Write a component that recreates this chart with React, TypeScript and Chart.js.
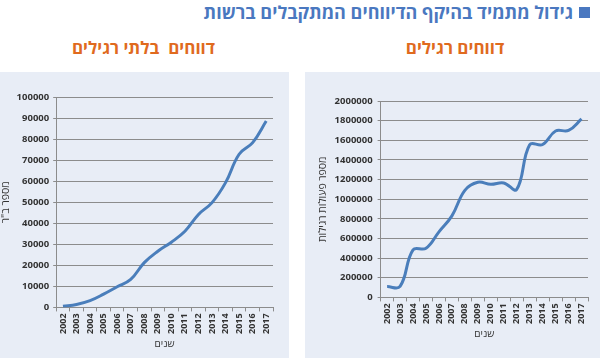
import React, { useEffect, useRef } from "react";
import { Chart, registerables } from "chart.js";

Chart.register(...registerables);

const years = ["2002","2003","2004","2005","2006","2007","2008","2009","2010","2011","2012","2013","2014","2015","2016","2017"];
const unusualReports = [600, 1400, 3200, 6300, 9800, 13300, 21300, 26700, 31000, 36200, 44200, 49800, 59300, 72800, 78300, 88600];
const regularReports = [110000, 112000, 485000, 500000, 668000, 830000, 1090000, 1172000, 1152000, 1166000, 1100000, 1555000, 1557000, 1695000, 1700000, 1817000];
const leftYTicks = { min: 0, max: 100000, step: 10000 };
const rightYTicks = { min: 0, max: 2000000, step: 200000 };

const mainTitle = "גידול מתמיד בהיקף הדיווחים המתקבלים ברשות";
const leftTitle = "דווחים  בלתי רגילים";
const rightTitle = "דווחים רגילים";
const leftYTitle = "מספר ב\"ר";
const rightYTitle = "מספר פעולות רגילות";
const xTitle = "שנים";

const FONT = "'Open Sans', 'Liberation Sans', 'DejaVu Sans', sans-serif";

function LineChart(props: { data: number[]; yt: { min: number; max: number; step: number }; yTitle: string; padding: any; tickPad: number; width: number; height: number }) {
  const ref = useRef<HTMLCanvasElement | null>(null);
  useEffect(() => {
    if (!ref.current) return;
    const chart = new Chart(ref.current, {
      type: "line",
      data: {
        labels: years,
        datasets: [
          {
            data: props.data,
            borderColor: "#4a7ebb",
            borderWidth: 3,
            tension: 0.4,
            pointRadius: 0,
            fill: false,
          },
        ],
      },
      options: {
        animation: false,
        responsive: false,
        maintainAspectRatio: false,
        layout: { padding: props.padding },
        plugins: { legend: { display: false }, tooltip: { enabled: false } },
        scales: {
          x: {
            offset: true,
            grid: { display: true, drawOnChartArea: false, offset: true, tickLength: 4, color: "#8c8c8c" },
            border: { display: true, color: "#8c8c8c" },
            ticks: { minRotation: 90, maxRotation: 90, autoSkip: false, color: "#333", font: { family: FONT, size: 9, weight: "bold" }, padding: 2 },
            title: { display: true, text: xTitle, color: "#333", font: { family: FONT, size: 10 }, padding: { top: 2, bottom: 0 } },
          },
          y: {
            min: props.yt.min,
            max: props.yt.max,
            grid: { color: "#8c8c8c", tickLength: 3 },
            border: { display: true, color: "#8c8c8c" },
            ticks: { stepSize: props.yt.step, color: "#333", font: { family: FONT, size: 9.5, weight: "bold" }, padding: props.tickPad, callback: (v: any) => String(v) },
            title: { display: true, text: props.yTitle, color: "#333", font: { family: FONT, size: 10.5 }, padding: { top: 0, bottom: 0 } },
          },
        },
      },
    });
    return () => chart.destroy();
  }, []);
  return <canvas ref={ref} width={props.width} height={props.height} style={{ display: "block" }} />;
}

export default function App() {
  return (
    <div style={{ position: "fixed", left: 0, top: 0, width: 600, height: 358, background: "#fff", overflow: "hidden", fontFamily: FONT }}>
      <div dir="rtl" style={{ position: "absolute", right: 10, top: 0, height: 24, display: "flex", alignItems: "center", color: "#4a78c0", fontWeight: "bold", fontSize: 18, whiteSpace: "nowrap" }}>
        <span style={{ display: "inline-block", width: 11, height: 11, background: "#4a78c0", marginLeft: 6 }} />
        <span>{mainTitle}</span>
      </div>
      <div dir="rtl" style={{ position: "absolute", left: 0, width: 287, top: 36, textAlign: "center", color: "#e06a1e", fontWeight: "bold", fontSize: 17, whiteSpace: "pre" }}>{leftTitle}</div>
      <div dir="rtl" style={{ position: "absolute", left: 305, width: 300, top: 36, textAlign: "center", color: "#e06a1e", fontWeight: "bold", fontSize: 17 }}>{rightTitle}</div>
      <div style={{ position: "absolute", left: 0, top: 72, width: 289, height: 286, background: "#e8edf6" }}>
        <LineChart data={unusualReports} yt={leftYTicks} yTitle={leftYTitle} tickPad={4} padding={{ left: 0, right: 16, top: 25, bottom: 8 }} width={289} height={286} />
      </div>
      <div style={{ position: "absolute", left: 305, top: 72, width: 295, height: 286, background: "#e8edf6" }}>
        <LineChart data={regularReports} yt={rightYTicks} yTitle={rightYTitle} tickPad={5} padding={{ left: 12, right: 12, top: 29, bottom: 18 }} width={295} height={286} />
      </div>
    </div>
  );
}
